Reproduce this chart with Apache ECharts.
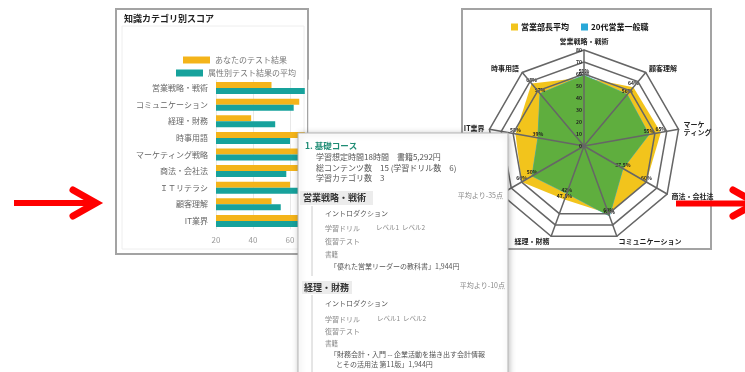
<!DOCTYPE html>
<html><head><meta charset="utf-8">
<script src="https://cdn.jsdelivr.net/npm/echarts@6/dist/echarts.min.js"></script>
<style>html,body{margin:0;padding:0;background:#fff}#c{width:745px;height:372px}</style>
</head><body><div id="c"></div>
<script>
// ---- bar chart data ----
const barCategories = ['営業戦略・戦術','コミュニケーション','経理・財務','時事用語','マーケティング戦略','商法・会社法','ＩＴリテラシ','顧客理解','IT業界'];
const yourScores    = [50, 65, 39, 68, 69, 67, 60, 50, 69];
const groupAverage  = [68, 62, 52, 60, 69, 58, 69, 55, 68];
const barSeriesNames = ['あなたのテスト結果','属性別テスト結果の平均'];

// ---- radar data (counter-clockwise from top) ----
const radarAxes  = ['営業戦略・戦術','時事用語','IT業界','ＩＴリテラシ','経理・財務','コミュニケーション','商法・会社法','マーケ\nティング','顧客理解'];
const managerAvg = [57, 68, 58, 60, 47.5, 60, 60, 65, 64];
const youngSales = [59, 57, 39, 50, 42, 62, 37.5, 55, 56];
const radarSeriesNames = ['営業部長平均','20代営業一般職'];

const JP = '"Noto Sans CJK JP","Noto Sans",sans-serif';
const chart = echarts.init(document.getElementById('c'), null, {renderer:'canvas'});

function t(text, x, y, size, color, bold, align){
  return {type:'text', x:x, y:y, z:102, silent:true,
    style:{text:text, fill:color, font:(bold?'bold ':'')+size+'px '+JP, align:align||'left', verticalAlign:'middle'}};
}
const card = [
  {type:'rect', z:100, silent:true, shape:{x:298,y:133,width:210,height:260},
   style:{fill:'#fff', stroke:'#b5b5b5', lineWidth:1, shadowBlur:6, shadowColor:'rgba(0,0,0,0.25)', shadowOffsetX:1, shadowOffsetY:1}},
  t('1. 基礎コース', 305, 146, 8.5, '#1e8c74', true),
  t('学習想定時間18時間　書籍5,292円', 316, 157, 8, '#555'),
  t('総コンテンツ数　15 (学習ドリル数　6)', 316, 167.5, 8, '#555'),
  t('学習カテゴリ数　3', 316, 178, 8, '#555'),
  {type:'rect', z:101, silent:true, shape:{x:300,y:191,width:73,height:14}, style:{fill:'#ececec'}},
  t('営業戦略・戦術', 303, 198, 9, '#333', true),
  t('平均より-35点', 503, 195, 7, '#888', false, 'right'),
  {type:'line', z:101, silent:true, shape:{x1:312,y1:206,x2:312,y2:276}, style:{stroke:'#ccc', lineWidth:1}},
  t('イントロダクション', 325, 213, 7, '#555'),
  t('学習ドリル', 325, 228, 7, '#888'),
  t('レベル1', 376, 228, 6.5, '#888'),
  t('レベル2', 402, 228, 6.5, '#888'),
  t('復習テスト', 325, 241, 7, '#888'),
  t('書籍', 325, 255, 6.5, '#888'),
  t('「優れた営業リーダーの教科書」1,944円', 330, 266, 7, '#555'),
  {type:'rect', z:101, silent:true, shape:{x:302,y:281,width:50,height:13}, style:{fill:'#ececec'}},
  t('経理・財務', 304, 287.5, 9, '#333', true),
  t('平均より-10点', 505, 285, 7, '#888', false, 'right'),
  {type:'line', z:101, silent:true, shape:{x1:312,y1:295,x2:312,y2:372}, style:{stroke:'#ccc', lineWidth:1}},
  t('イントロダクション', 325, 303, 7, '#555'),
  t('学習ドリル', 325, 319, 7, '#888'),
  t('レベル1', 377, 319, 6.5, '#888'),
  t('レベル2', 403, 319, 6.5, '#888'),
  t('復習テスト', 325, 331, 7, '#888'),
  t('書籍', 325, 344, 6.5, '#888'),
  t('「財務会計・入門 -- 企業活動を描き出す会計情報', 330, 354, 7, '#555'),
  t('とその活用法 第11版」1,944円', 336, 364, 7, '#555')
];
const panels = [
  {type:'rect', z:0, silent:true, shape:{x:116,y:9,width:192,height:245}, style:{fill:'#fff', stroke:'#a3a3a3', lineWidth:2}},
  {type:'rect', z:0, silent:true, shape:{x:122,y:26,width:182,height:223}, style:{fill:null, stroke:'#eeeeee', lineWidth:1}},
  t('知識カテゴリ別スコア', 124, 19, 9, '#222', true),
  {type:'rect', z:0, silent:true, shape:{x:462,y:9,width:249,height:240}, style:{fill:'#fff', stroke:'#a3a3a3', lineWidth:2}}
];
panels[2].z = 1;
const arrows = [
  {type:'line', z:200, silent:true, shape:{x1:14,y1:203,x2:92,y2:203}, style:{stroke:'#ff0000', lineWidth:6}},
  {type:'polyline', z:200, silent:true, shape:{points:[[73,190],[96,203],[73,216]]}, style:{stroke:'#ff0000', fill:null, lineWidth:7, lineCap:'round', lineJoin:'miter'}},
  {type:'line', z:200, silent:true, shape:{x1:676,y1:203.5,x2:752,y2:203.5}, style:{stroke:'#ff0000', lineWidth:6}},
  {type:'polyline', z:200, silent:true, shape:{points:[[733,190],[756,203],[733,216]]}, style:{stroke:'#ff0000', fill:null, lineWidth:7, lineCap:'round', lineJoin:'miter'}}
];

const indicator0 = radarAxes.map(n => ({name:n, max:80}));
const indicator1 = radarAxes.map((n,i) => i===0 ? ({name:'', max:80, axisLabel:{show:true}}) : ({name:'', max:80}));

const option = {
  animation:false,
  backgroundColor:'#fff',
  textStyle:{fontFamily:JP},
  legend:[
    {data:[barSeriesNames[0]], left:178, top:51, itemWidth:27, itemHeight:7, icon:'rect', itemGap:5,
     textStyle:{fontSize:8, color:'#777', fontFamily:JP}},
    {data:[barSeriesNames[1]], left:171, top:64, itemWidth:27, itemHeight:7, icon:'rect', itemGap:5,
     textStyle:{fontSize:8, color:'#777', fontFamily:JP}},
    {data:radarSeriesNames, left:506, top:18, itemWidth:7, itemHeight:7, icon:'rect', itemGap:12,
     textStyle:{fontSize:8, fontWeight:'bold', color:'#111', fontFamily:JP, padding:[0,0,0,-2]}}
  ],
  grid:{left:216, top:79.7, width:92.5, height:149.6, containLabel:false},
  xAxis:{type:'value', min:20, max:70, interval:20,
    axisLine:{show:false}, axisTick:{show:false},
    axisLabel:{fontSize:8, color:'#999', margin:7, fontFamily:JP, showMaxLabel:false},
    splitLine:{lineStyle:{color:'#e8e8e8'}}},
  yAxis:{type:'category', inverse:true, data:barCategories,
    axisLine:{show:false}, axisTick:{show:false},
    axisLabel:{fontSize:8, color:'#666', margin:8, fontFamily:JP}},
  radar:[
    {center:[584,146], radius:96, startAngle:90, splitNumber:8, shape:'polygon', indicator:indicator0,
     axisNameGap:5, axisName:{fontSize:7, fontWeight:'bold', color:'#222', fontFamily:JP, lineHeight:8},
     axisLine:{show:false}, splitLine:{show:false}, splitArea:{show:false}},
    {center:[584,146], radius:96, startAngle:90, splitNumber:8, shape:'polygon', indicator:indicator1, z:5,
     axisName:{show:false},
     axisLabel:{show:false, fontSize:5, fontWeight:'bold', color:'#222', margin:2},
     axisLine:{show:true, lineStyle:{color:'#666', width:1.5}},
     splitLine:{show:true, lineStyle:{color:['rgba(0,0,0,0)','rgba(0,0,0,0)','rgba(0,0,0,0)','rgba(0,0,0,0)','rgba(0,0,0,0)','rgba(0,0,0,0)','#666','#666','#666'], width:1.5}},
     splitArea:{show:false}}
  ],
  graphic:{elements: panels.concat(card, arrows)},
  series:[
    {type:'bar', name:barSeriesNames[0], data:yourScores, barWidth:6, barGap:'0%', itemStyle:{color:'#F4B41A'}, silent:true},
    {type:'bar', name:barSeriesNames[1], data:groupAverage, barWidth:6, barGap:'0%', itemStyle:{color:'#17A29C'}, silent:true},
    {type:'radar', radarIndex:0, silent:true, symbol:'circle', symbolSize:0.5, z:2,
     label:{show:true, fontSize:5, fontWeight:'bold', color:'#222', formatter:'{c}%', distance:1},
     data:[
      {name:radarSeriesNames[0], value:managerAvg, itemStyle:{color:'#F2C41C'}, lineStyle:{width:0, color:'#F2C41C'},
       areaStyle:{color:'#F2C41C', opacity:1}},
      {name:radarSeriesNames[1], value:youngSales, itemStyle:{color:'#29A8D8'}, lineStyle:{width:0.8, color:'#29A8D8'},
       areaStyle:{color:'#5FAE3E', opacity:1}}
     ]}
  ]
};
chart.setOption(option);
</script></body></html>
